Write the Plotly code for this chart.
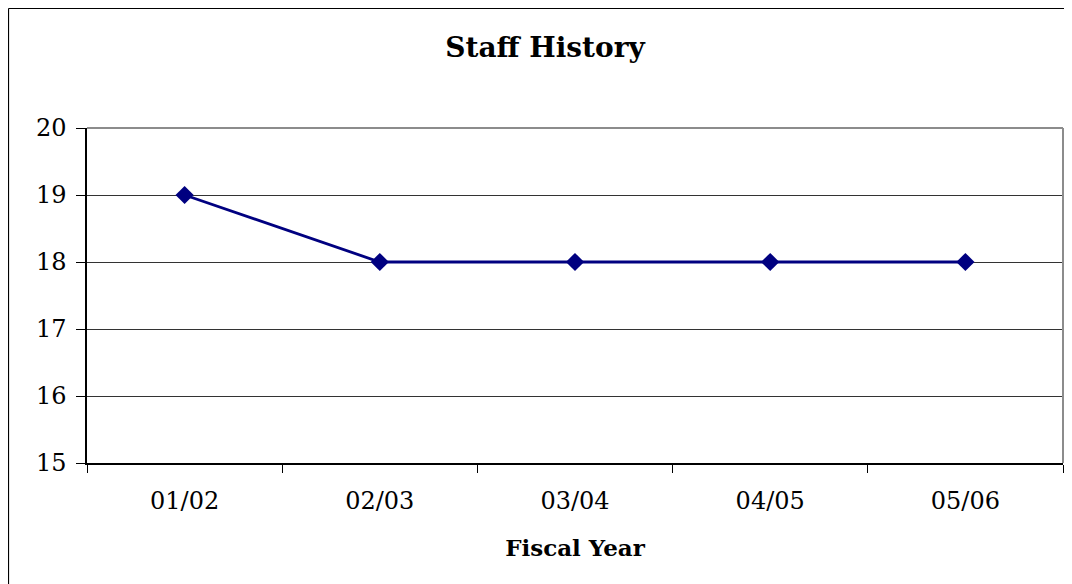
import plotly.graph_objects as go

categories = ["01/02", "02/03", "03/04", "04/05", "05/06"]
staff = [19, 18, 18, 18, 18]
y_ticks = [15, 16, 17, 18, 19, 20]

# page has an 8px body margin; work in figure coordinates
OFF = 8
W, H = 1072 - OFF, 584 - OFF
L, R, T, B = 87 - OFF, 1063 - OFF, 128 - OFF, 463 - OFF
pw, ph = R - L, B - T

FONT = "DejaVu Serif"

fig = go.Figure()
fig.add_trace(go.Scatter(
    x=categories, y=staff, mode="lines+markers",
    line=dict(color="#000080", width=2.8),
    marker=dict(symbol="diamond", size=14, color="#000080"),
    showlegend=False, cliponaxis=False,
))

fig.update_layout(
    width=W, height=H,
    margin=dict(l=L, r=W - R, t=T, b=H - B, pad=0),
    paper_bgcolor="white", plot_bgcolor="white",
    font=dict(family=FONT, color="black", size=24),
    title=dict(text="<b>Staff History</b>", x=(545 - OFF) / W, xanchor="center",
               y=1 - (47 - OFF) / H, yanchor="middle", font=dict(size=28, family=FONT)),
    xaxis=dict(
        type="category", range=[-0.5, 4.5], tickson="boundaries",
        showgrid=False, showline=True, linecolor="black", linewidth=1.5,
        ticks="outside", ticklen=8, tickcolor="black", tickwidth=1,
        ticklabelstandoff=15, zeroline=False,
        title=dict(text="<b>Fiscal Year</b>", font=dict(size=23, family=FONT), standoff=26),
    ),
    yaxis=dict(
        range=[15, 20], tickvals=y_ticks, showgrid=True, gridcolor="#333333", gridwidth=1,
        showline=True, linecolor="black", linewidth=1.5,
        ticks="outside", ticklen=9, tickcolor="black", tickwidth=1,
        ticklabelstandoff=5, zeroline=False,
    ),
    shapes=[
        # plot area top/right border (gray)
        dict(type="line", xref="paper", yref="paper", x0=0, x1=1, y0=1, y1=1,
             line=dict(color="#8c8c8c", width=2), layer="above"),
        dict(type="line", xref="paper", yref="paper", x0=1, x1=1, y0=0, y1=1,
             line=dict(color="#8c8c8c", width=2), layer="above"),
        # outer chart border (only left and top edges fall inside the view)
        dict(type="line", xref="paper", yref="paper",
             x0=(0.5 - L) / pw, x1=(W + 20 - L) / pw,
             y0=(B - 0.5) / ph, y1=(B - 0.5) / ph,
             line=dict(color="black", width=1.2), layer="below"),
        dict(type="line", xref="paper", yref="paper",
             x0=(0.5 - L) / pw, x1=(0.5 - L) / pw,
             y0=(B - 0.5) / ph, y1=(B - (H + 20)) / ph,
             line=dict(color="black", width=1.2), layer="below"),
    ],
)

fig.write_html("out.html")
